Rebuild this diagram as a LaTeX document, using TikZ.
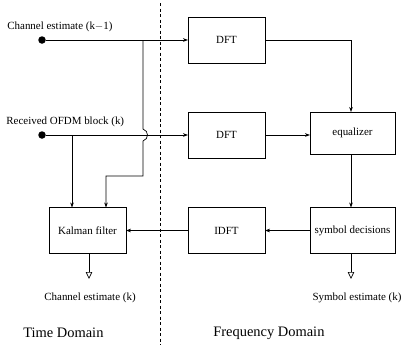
\documentclass[tikz,border=0pt]{standalone}
\usepackage{fontspec}
\setmainfont{Liberation Serif}
\usetikzlibrary{arrows.meta}
\newcommand\smalltxt{\fontsize{11}{13}\selectfont}
\newcommand\bigtxt{\fontsize{14.5}{17}\selectfont}
\begin{document}
\begin{tikzpicture}[x=1bp,y=-1bp,
  line width=0.7bp,
  blk/.style={draw, minimum width=77bp, minimum height=46bp, outer sep=0pt, inner sep=1bp, font=\smalltxt},
  wideblk/.style={blk, minimum width=85bp},
  arr/.style={-{Stealth[length=5bp,width=3.6bp]}},
  outarr/.style={-{Triangle[open,length=7bp,width=6.5bp]}},
  lbl/.style={font=\smalltxt, inner sep=0pt},
  dom/.style={font=\bigtxt, inner sep=0pt, anchor=west},
  src/.style={circle, fill, minimum size=7.5bp, inner sep=0pt, outer sep=0pt},
  divider/.style={line width=0.9bp, dash pattern=on 3bp off 2.5bp}]
\useasboundingbox (0,0) rectangle (403,345);

% time / frequency divider
\coordinate (divtop) at (160,3);
\coordinate (divbot) at (160,345);
\draw[divider] (divtop) -- (divbot);

% inputs
\node[src] (chan) at (42,40) {};
\node[src] (recv) at (42,135) {};
\node[lbl, anchor=base west] (chanlbl) at (7,29) {Channel estimate (k$-$1)};
\node[lbl, anchor=base west] (recvlbl) at (6,124) {Received OFDM block (k)};

% processing blocks
\node[blk] (dft1) at (226.5,40) {DFT};
\node[blk] (dft2) at (226.5,135) {DFT};
\node[wideblk, minimum height=42bp] (eq) at (352.5,133) {equalizer};
\node[blk] (idft) at (226.5,230.5) {IDFT};
\node[wideblk] (sd) at (352.5,230.5) {symbol decisions};
\node[blk] (kal) at (87.5,230.5) {Kalman filter};

% branch points
\coordinate (cb) at (143,40);
\coordinate (rb) at (72,135);
\coordinate (hopa) at (143,129);
\coordinate (hopb) at (143,141);
\coordinate (turn) at (143,176);
\coordinate (kin) at (106,176);
\coordinate (eqin) at (351,40);

% forward paths
\draw[arr] (chan) -- (dft1);
\draw[arr] (recv) -- (dft2);
\draw[arr] (dft1.east) -- (eqin) -- (eqin |- eq.north);
\draw[arr] (dft2.east) -- (dft2.east -| eq.west);
\draw[arr] (eq.south -| eqin) -- (eqin |- sd.north);
\draw[arr] (sd) -- (idft);
\draw[arr] (idft) -- (kal);

% inputs to the Kalman filter
\draw[arr] (rb) -- (rb |- kal.north);
\draw[arr] (cb) -- (hopa) .. controls (149,131) and (149,139) .. (hopb) -- (turn) -- (kin) -- (kin |- kal.north);

% outputs
\coordinate (kout) at (89,279);
\coordinate (sout) at (351,279);
\draw[outarr] (kal.south -| kout) -- (kout);
\draw[outarr] (sd.south -| sout) -- (sout);
\node[lbl] (koutlbl) at (90,298) {Channel estimate (k)};
\node[lbl] (soutlbl) at (357,298) {Symbol estimate (k)};

% domain captions
\node[dom] (tdom) at (23,333) {Time Domain};
\node[dom] (fdom) at (213,333) {Frequency Domain};
\end{tikzpicture}
\end{document}
